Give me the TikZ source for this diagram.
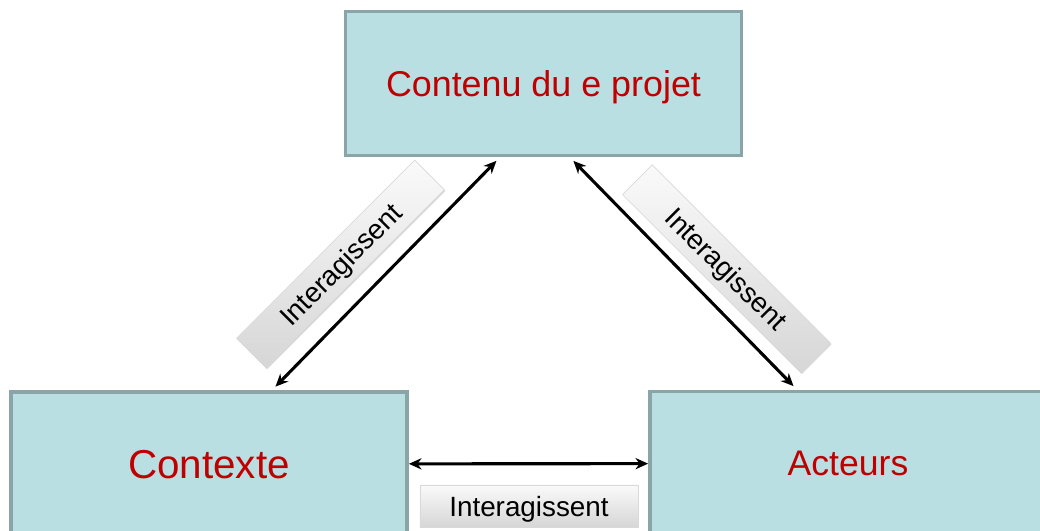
\documentclass[tikz,border=0pt]{standalone}
\usepackage{fontspec}
\setmainfont{Liberation Sans}
\usetikzlibrary{arrows.meta, shadows}
\definecolor{bleuboite}{HTML}{BADFE2}
\definecolor{bordboite}{HTML}{8AA5A8}
\definecolor{rougetexte}{HTML}{C00000}

\begin{document}
\begin{tikzpicture}[x=0.025cm, y=-0.025cm, >={Stealth[length=9pt, width=8pt]},
  boite/.style={draw=bordboite, line width=2.6pt, fill=bleuboite, text=rougetexte,
    minimum width=9.9cm, minimum height=3.6cm, text depth=0pt},
  etiquette/.style={draw=gray!30, line width=0.5pt, top color=gray!4, bottom color=gray!32,
    minimum width=5.45cm, minimum height=1.05cm, text depth=0pt,
    font=\fontsize{19.8}{24}\selectfont,
    drop shadow={opacity=0.3, shadow xshift=0.7pt, shadow yshift=-0.9pt}},
  lien/.style={<->, line width=2.2pt, shorten >=3.5pt, shorten <=3.5pt}]
\useasboundingbox (0,0) rectangle (1040,531);
\clip (0,0) rectangle (1040,531);

% Blocs
\node[boite, font=\fontsize{25.5}{30}\selectfont] (contenu) at (543.5,83.5) {Contenu du e projet};
\node[boite, font=\fontsize{28.7}{34}\selectfont] (contexte) at (209,464) {Contexte};
\node[boite, font=\fontsize{25.3}{30}\selectfont] (acteurs) at (848,463.5) {Acteurs};

% Liaisons
\draw[lien] ([xshift=1.575cm]contexte.north) -- ([xshift=-1.09cm]contenu.south);
\draw[lien] ([xshift=0.66cm]contenu.south) -- ([xshift=-1.275cm]acteurs.north);
\draw[lien, shorten >=0pt, shorten <=0pt] (contexte) -- (acteurs);

% Etiquettes
\node[etiquette, rotate=45, minimum width=6.3cm] (etiqgauche) at (340.5,264) {Interagissent};
\node[etiquette, rotate=-45, minimum width=6.3cm] (etiqdroite) at (726.5,268.8) {Interagissent};
\node[etiquette] (etiqbas) at (529,506) {Interagissent};
\end{tikzpicture}
\end{document}
